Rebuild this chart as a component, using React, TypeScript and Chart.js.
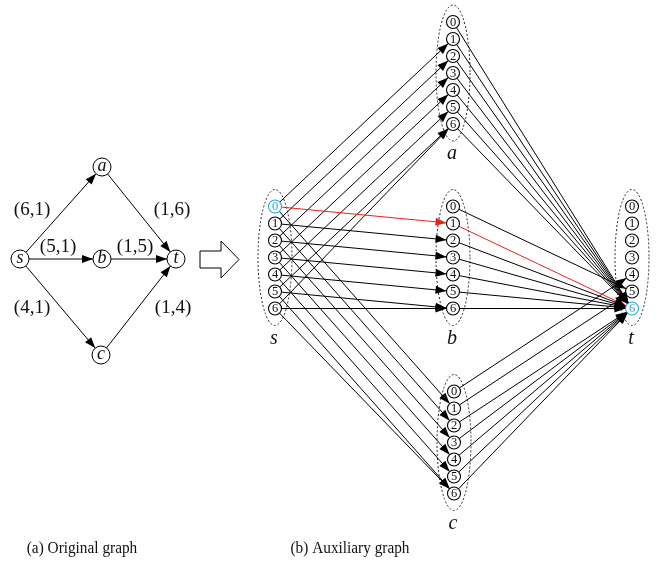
import React, { useEffect, useRef } from 'react';
import { Chart, registerables } from 'chart.js';
Chart.register(...registerables);

// ---- original graph ----
const origNodes = ['s', 'a', 'b', 'c', 't'];
const origX = [20, 102, 102, 101, 176];
const origY = [259, 167, 259, 355, 259];
const edgeFrom = ['s', 's', 's', 'a', 'b', 'c'];
const edgeTo = ['a', 'b', 'c', 't', 't', 't'];
const edgeCost = [6, 5, 4, 1, 1, 1];
const edgeDelay = [1, 1, 1, 6, 5, 4];
const weightLabelX = [32, 58, 32, 172, 135, 173];
const weightLabelY = [210, 247, 308, 210, 247, 308];

// ---- auxiliary graph ----
const delayLevels = [0, 1, 2, 3, 4, 5, 6];
const auxGroupX = [275, 453, 453, 454, 632];
const auxGroupTopY = [206.5, 22, 206.5, 391.5, 206.5];
const levelGap = 17;
const highlightNodes = ['s0', 't6'];
const highlightEdges = ['s0-b1', 'b1-t6'];

const captions = ['(a) Original graph', '(b) Auxiliary graph'];
const captionX = [82, 350];
const captionY = 549;

const BLUE = '#29a8df';
const RED = '#e8211c';
const SERIF = '"Liberation Serif", "Times New Roman", serif';

type P = { x: number; y: number };

function shorten(a: P, b: P, r1: number, r2: number): P[] {
  const dx = b.x - a.x, dy = b.y - a.y;
  const L = Math.hypot(dx, dy);
  const ux = dx / L, uy = dy / L;
  return [
    { x: a.x + ux * r1, y: a.y + uy * r1 },
    { x: b.x - ux * r2, y: b.y - uy * r2 },
  ];
}

const R_ORIG = 9;
const R_AUX = 6.5;
const maxLevel = delayLevels[delayLevels.length - 1];

function origPos(n: string): P {
  const i = origNodes.indexOf(n);
  return { x: origX[i], y: origY[i] };
}
function auxPos(n: string, lvl: number): P {
  const g = origNodes.indexOf(n);
  return { x: auxGroupX[g], y: auxGroupTopY[g] + lvl * levelGap };
}

export default function App() {
  const ref = useRef<HTMLCanvasElement | null>(null);

  useEffect(() => {
    document.body.style.margin = '0';
    const canvas = ref.current!;
    const datasets: any[] = [];

    // nodes (drawn on top: lowest order)
    datasets.push({
      type: 'scatter',
      label: 'orig-nodes',
      data: origNodes.map((n) => origPos(n)),
      pointRadius: R_ORIG,
      pointHoverRadius: R_ORIG,
      pointBackgroundColor: '#ffffff',
      pointBorderColor: '#000000',
      pointBorderWidth: 1,
      order: 0,
    });
    const auxNodeIds: string[] = [];
    const auxNodePts: P[] = [];
    origNodes.forEach((n) => {
      delayLevels.forEach((l) => {
        auxNodeIds.push(n + l);
        auxNodePts.push(auxPos(n, l));
      });
    });
    datasets.push({
      type: 'scatter',
      label: 'aux-nodes',
      data: auxNodePts,
      pointRadius: R_AUX,
      pointHoverRadius: R_AUX,
      pointBackgroundColor: '#ffffff',
      pointBorderColor: auxNodeIds.map((id) => (highlightNodes.includes(id) ? BLUE : '#000000')),
      pointBorderWidth: 1.1,
      order: 0,
    });

    // original edges
    edgeFrom.forEach((u, k) => {
      const v = edgeTo[k];
      const pts = shorten(origPos(u), origPos(v), R_ORIG, R_ORIG);
      datasets.push({
        type: 'line',
        label: `${u}-${v}`,
        data: pts,
        borderColor: '#000000',
        borderWidth: 1,
        pointRadius: 0,
        fill: false,
        order: 2,
        arrow: { len: 11, half: 4, color: '#000000' },
      });
    });

    // auxiliary edges: u_i -> v_min(i+delay, max)
    edgeFrom.forEach((u, k) => {
      const v = edgeTo[k];
      delayLevels.forEach((i) => {
        const j = Math.min(i + edgeDelay[k], maxLevel);
        const id = `${u}${i}-${v}${j}`;
        const red = highlightEdges.includes(id);
        const pts = shorten(auxPos(u, i), auxPos(v, j), R_AUX, R_AUX);
        datasets.push({
          type: 'line',
          label: id,
          data: pts,
          borderColor: red ? RED : '#000000',
          borderWidth: 1,
          pointRadius: 0,
          fill: false,
          order: red ? 1 : 2,
          arrow: { len: 11, half: 4, color: red ? RED : '#000000' },
        });
      });
    });

    const decor = {
      id: 'decor',
      beforeDatasetsDraw(chart: any) {
        const { ctx, scales } = chart;
        const sx = scales.x, sy = scales.y;
        ctx.save();
        // dashed ellipses around each group
        ctx.setLineDash([2, 2]);
        ctx.strokeStyle = '#222';
        ctx.lineWidth = 1;
        origNodes.forEach((n, g) => {
          const cx = sx.getPixelForValue(auxGroupX[g]);
          const cyv = auxGroupTopY[g] + (maxLevel * levelGap) / 2;
          const cy = sy.getPixelForValue(cyv);
          const ry = Math.abs(sy.getPixelForValue(cyv + 68) - cy);
          const rx = Math.abs(sx.getPixelForValue(auxGroupX[g] + 17) - cx);
          ctx.beginPath();
          ctx.ellipse(cx, cy, rx, ry, 0, 0, Math.PI * 2);
          ctx.stroke();
        });
        ctx.setLineDash([]);
        // hollow block arrow
        const arrowPts = [
          [200, 251], [221, 251], [221, 241], [239, 259.5], [221, 278], [221, 268], [200, 268],
        ];
        ctx.beginPath();
        arrowPts.forEach(([x, y], i) => {
          const px = sx.getPixelForValue(x), py = sy.getPixelForValue(y);
          if (i === 0) ctx.moveTo(px, py); else ctx.lineTo(px, py);
        });
        ctx.closePath();
        ctx.fillStyle = '#fff';
        ctx.fill();
        ctx.strokeStyle = '#000';
        ctx.lineWidth = 1;
        ctx.stroke();
        ctx.restore();
      },
      afterDatasetsDraw(chart: any) {
        const { ctx, scales } = chart;
        const sx = scales.x, sy = scales.y;
        ctx.save();
        // arrowheads
        chart.data.datasets.forEach((ds: any, i: number) => {
          if (!ds.arrow) return;
          const meta = chart.getDatasetMeta(i);
          const a = meta.data[0], b = meta.data[1];
          const ang = Math.atan2(b.y - a.y, b.x - a.x);
          const { len, half, color } = ds.arrow;
          ctx.fillStyle = color;
          ctx.beginPath();
          ctx.moveTo(b.x, b.y);
          ctx.lineTo(b.x - len * Math.cos(ang) + half * Math.sin(ang), b.y - len * Math.sin(ang) - half * Math.cos(ang));
          ctx.lineTo(b.x - len * Math.cos(ang) - half * Math.sin(ang), b.y - len * Math.sin(ang) + half * Math.cos(ang));
          ctx.closePath();
          ctx.fill();
        });
        ctx.textAlign = 'center';
        ctx.textBaseline = 'middle';
        ctx.fillStyle = '#111';
        // original node letters
        ctx.font = `italic 18px ${SERIF}`;
        origNodes.forEach((n, i) => {
          ctx.fillText(n, sx.getPixelForValue(origX[i]), sy.getPixelForValue(origY[i]) - 1);
        });
        // weight labels
        ctx.font = `19px ${SERIF}`;
        edgeCost.forEach((c, k) => {
          ctx.fillText(`(${c},${edgeDelay[k]})`, sx.getPixelForValue(weightLabelX[k]), sy.getPixelForValue(weightLabelY[k]));
        });
        // aux digits
        ctx.font = `12.5px ${SERIF}`;
        auxNodeIds.forEach((id, i) => {
          const p = auxNodePts[i];
          ctx.fillStyle = highlightNodes.includes(id) ? BLUE : '#111';
          ctx.fillText(id.slice(1), sx.getPixelForValue(p.x), sy.getPixelForValue(p.y) + 0.5);
        });
        // group names
        ctx.fillStyle = '#111';
        ctx.font = `italic 20px ${SERIF}`;
        origNodes.forEach((n, g) => {
          ctx.fillText(n, sx.getPixelForValue(auxGroupX[g] - 1), sy.getPixelForValue(auxGroupTopY[g] + maxLevel * levelGap + 30));
        });
        // captions (slightly condensed serif)
        ctx.font = `17px ${SERIF}`;
        captions.forEach((c, i) => {
          ctx.save();
          ctx.translate(sx.getPixelForValue(captionX[i]), sy.getPixelForValue(captionY));
          ctx.scale(0.9, 1);
          ctx.fillText(c, 0, 0);
          ctx.restore();
        });
        ctx.restore();
      },
    };

    const chart = new Chart(canvas, {
      type: 'scatter',
      data: { datasets },
      options: {
        responsive: false,
        animation: false,
        events: [],
        layout: { padding: 0, autoPadding: false },
        plugins: { legend: { display: false }, tooltip: { enabled: false } },
        scales: {
          x: { type: 'linear', min: 0, max: 670, display: false },
          y: { type: 'linear', min: 0, max: 566, reverse: true, display: false },
        },
      } as any,
      plugins: [decor],
    });
    return () => chart.destroy();
  }, []);

  return (
    <div style={{ position: 'absolute', left: 0, top: 0, width: 670, height: 566, background: '#fff' }}>
      <canvas ref={ref} width={670} height={566} />
    </div>
  );
}
